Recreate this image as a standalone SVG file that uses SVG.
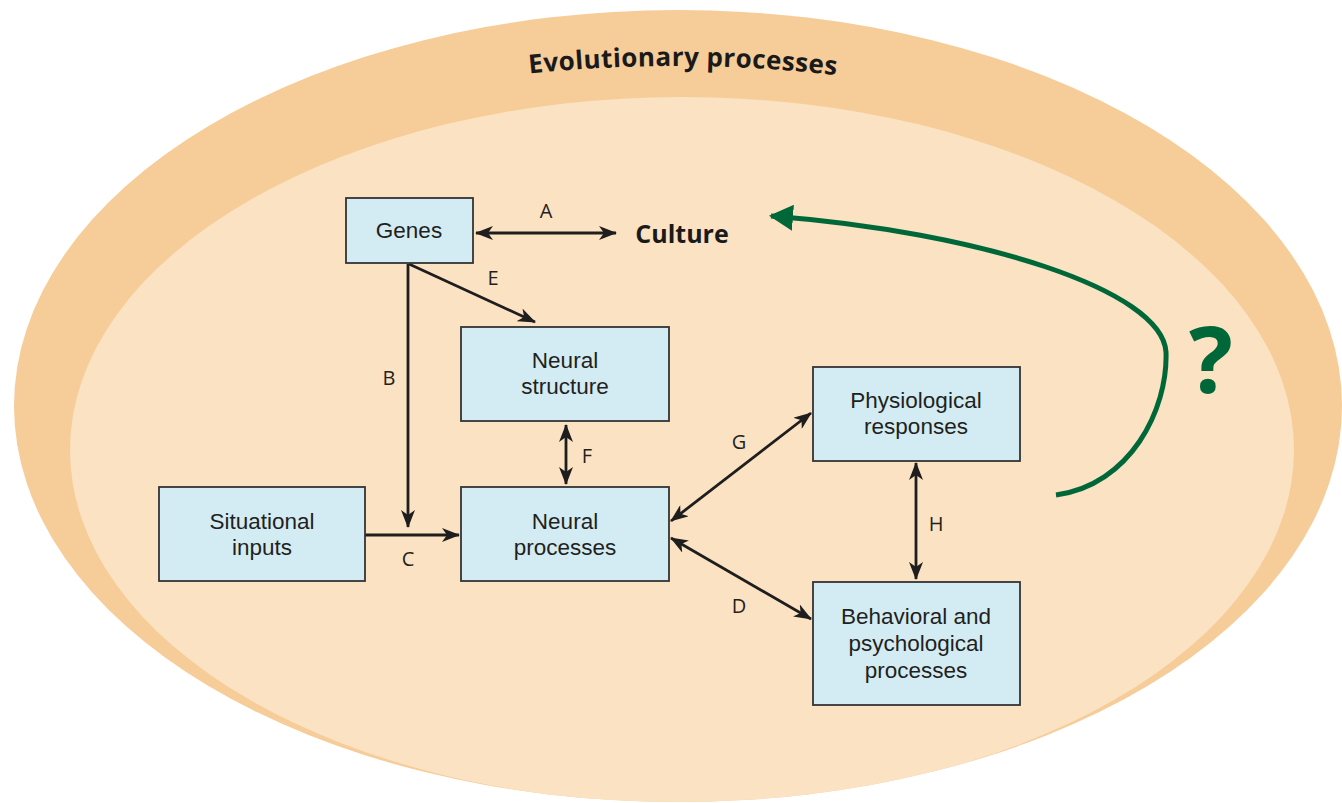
<svg xmlns="http://www.w3.org/2000/svg" width="1342" height="803" viewBox="0 0 1342 803">
<style>
.box{fill:#D3ECF4;stroke:#333;stroke-width:1.8}
.lbl{font-family:"Liberation Sans",Arial,sans-serif;font-size:22.5px;fill:#231F20;text-anchor:middle}
.let{font-family:"Open Sans","Noto Sans",sans-serif;font-size:20px;fill:#231F20;text-anchor:middle}
.con{stroke:#1E1E1E;stroke-width:2.8;fill:none}
</style>
<defs>
<marker id="ah" viewBox="0 0 18 14" refX="17" refY="7" markerWidth="18" markerHeight="14" markerUnits="userSpaceOnUse" orient="auto-start-reverse">
<path d="M0,0 L18,7 L0,14 L5,7 Z" fill="#1E1E1E"/>
</marker>
<marker id="gh" viewBox="0 0 24 26" refX="22" refY="13" markerWidth="24" markerHeight="26" markerUnits="userSpaceOnUse" orient="auto">
<path d="M0,0 L24,13 L0,26 Z" fill="#006838"/>
</marker>
<clipPath id="oc"><ellipse cx="678" cy="406" rx="664" ry="396"/></clipPath>
<path id="tp" d="M500,77 Q683,54 866,79"/>
</defs>
<rect width="1342" height="803" fill="#FFFFFF"/>
<g id="background">
<ellipse cx="678" cy="406" rx="664" ry="396" fill="#F6CD98"/>
<ellipse cx="682" cy="450" rx="612" ry="353" fill="#FBE2C3" clip-path="url(#oc)"/>
<text font-family="Open Sans, Noto Sans, sans-serif" font-weight="bold" font-size="26" letter-spacing="0.4" fill="#1A1A1A"><textPath href="#tp" startOffset="50%" text-anchor="middle">Evolutionary  processes</textPath></text>
</g>
<g id="connectors">
<line class="con" x1="476" y1="233" x2="616" y2="233" marker-start="url(#ah)" marker-end="url(#ah)"/>
<line class="con" x1="409" y1="264" x2="535" y2="322" marker-end="url(#ah)"/>
<line class="con" x1="408" y1="264" x2="408" y2="527" marker-end="url(#ah)"/>
<line class="con" x1="365" y1="535" x2="459" y2="535" marker-end="url(#ah)"/>
<line class="con" x1="566" y1="425" x2="566" y2="484" marker-start="url(#ah)" marker-end="url(#ah)"/>
<line class="con" x1="671" y1="521" x2="811" y2="413" marker-start="url(#ah)" marker-end="url(#ah)"/>
<line class="con" x1="671" y1="538" x2="811" y2="619" marker-start="url(#ah)" marker-end="url(#ah)"/>
<line class="con" x1="916" y1="463" x2="916" y2="579" marker-start="url(#ah)" marker-end="url(#ah)"/>
<path d="M1056,495 C1130,485 1168,410 1166,352 C1162,290 980,232 771,216" stroke="#006838" stroke-width="5" fill="none" marker-end="url(#gh)"/>
<text class="let" x="546" y="218">A</text>
<text class="let" x="493" y="285">E</text>
<text class="let" x="389" y="385">B</text>
<text class="let" x="408" y="566">C</text>
<text class="let" x="587" y="463">F</text>
<text class="let" x="739" y="449">G</text>
<text class="let" x="739" y="613">D</text>
<text class="let" x="936" y="531">H</text>
</g>
<g id="genes">
<rect class="box" x="346" y="198" width="127" height="65"/>
<text class="lbl" x="409" y="238">Genes</text>
</g>
<g id="culture">
<text x="682" y="243" font-family="Open Sans, Noto Sans, sans-serif" font-weight="bold" font-size="25" fill="#1A1A1A" text-anchor="middle">Culture</text>
</g>
<g id="neural-structure">
<rect class="box" x="461" y="327" width="208" height="94"/>
<text class="lbl"><tspan x="565" y="368">Neural</tspan><tspan x="565" dy="26">structure</tspan></text>
</g>
<g id="situational-inputs">
<rect class="box" x="159" y="487" width="206" height="94"/>
<text class="lbl"><tspan x="262" y="529">Situational</tspan><tspan x="262" dy="26">inputs</tspan></text>
</g>
<g id="neural-processes">
<rect class="box" x="461" y="487" width="208" height="94"/>
<text class="lbl"><tspan x="565" y="529">Neural</tspan><tspan x="565" dy="26">processes</tspan></text>
</g>
<g id="physiological-responses">
<rect class="box" x="813" y="367" width="207" height="94"/>
<text class="lbl"><tspan x="916" y="408">Physiological</tspan><tspan x="916" dy="26">responses</tspan></text>
</g>
<g id="behavioral">
<rect class="box" x="813" y="582" width="207" height="123"/>
<text class="lbl"><tspan x="916" y="624">Behavioral and</tspan><tspan x="916" dy="27">psychological</tspan><tspan x="916" dy="27">processes</tspan></text>
</g>
<g id="question">
<text x="1211" y="393" font-family="Open Sans, Noto Sans, sans-serif" font-weight="bold" font-size="92" fill="#006838" text-anchor="middle">?</text>
</g>
</svg>
